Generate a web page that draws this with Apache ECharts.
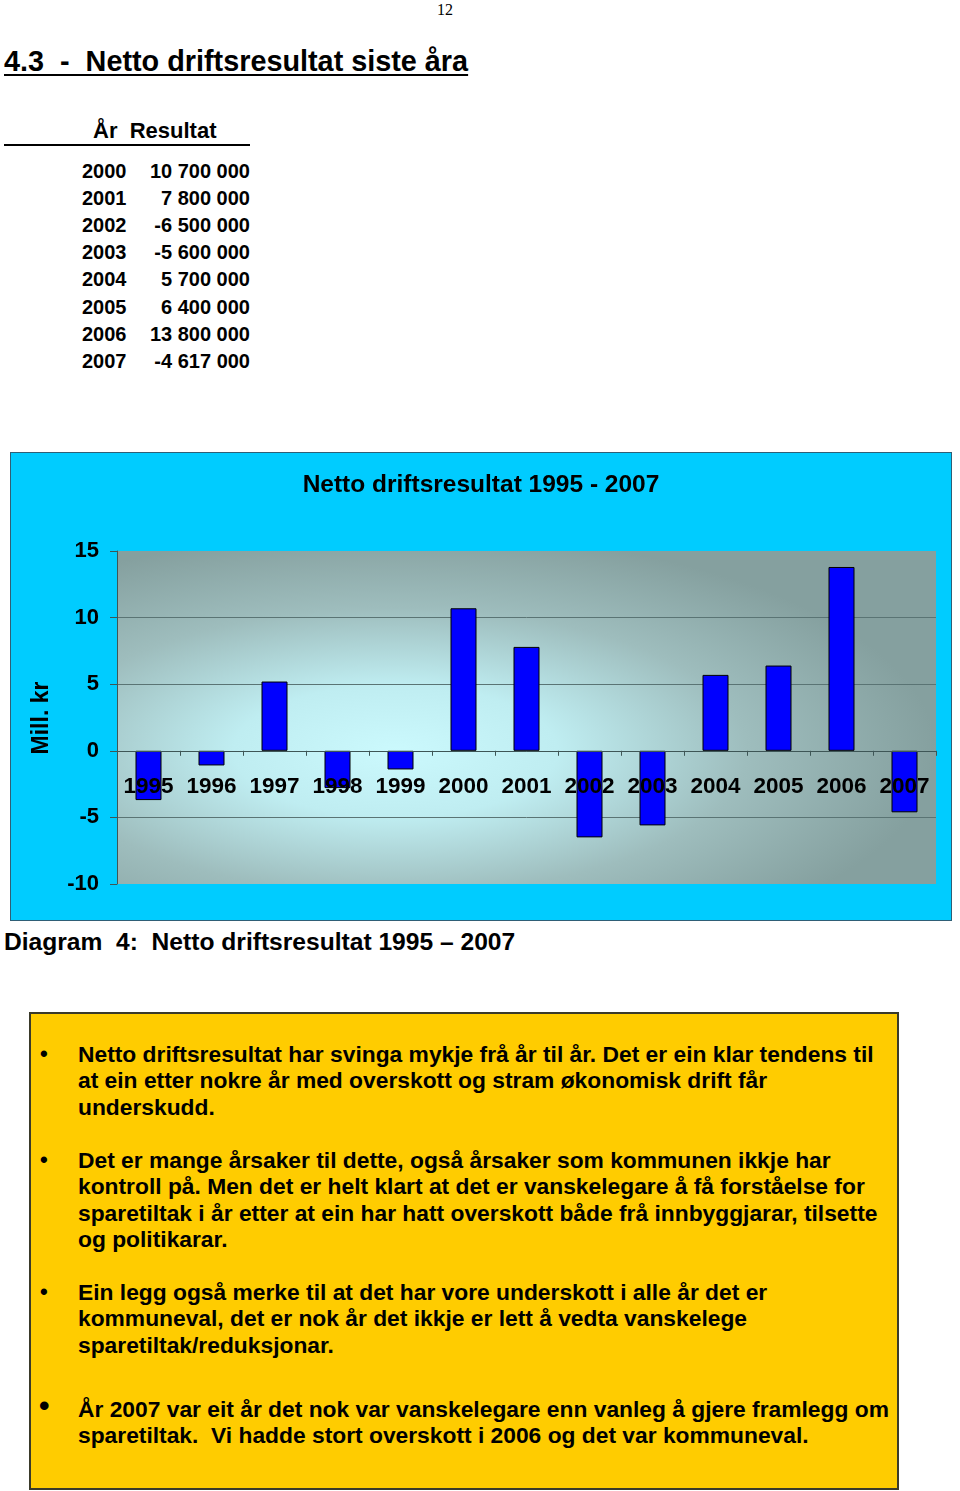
<!DOCTYPE html>
<html>
<head>
<meta charset="utf-8">
<script src="https://cdn.jsdelivr.net/npm/echarts@6/dist/echarts.min.js"></script>
<style>
  html, body { margin: 0; padding: 0; background: #ffffff; }
  body { width: 960px; height: 1491px; position: relative; overflow: hidden;
         font-family: "Liberation Sans", Arial, Helvetica, sans-serif; color: #000; }
  .abs { position: absolute; white-space: pre; font-weight: bold; }
  #pageno { left: 437px; top: 1px; font: 16px "Liberation Serif", "Times New Roman", serif; font-weight: normal; }
  #heading { left: 4px; top: 44px; font-size: 28.8px; line-height: 34px; text-decoration: underline; text-decoration-thickness: 2px; text-underline-offset: 3px; }
  #thead { left: 93px; top: 118px; font-size: 22px; line-height: 26px; }
  #tline { position: absolute; left: 4px; top: 144px; width: 246px; height: 2px; background: #000; }
  .trow { position: absolute; left: 82px; width: 168px; font-size: 20px; line-height: 24px; font-weight: bold; }
  .trow .y { position: absolute; left: 0; }
  .trow .v { position: absolute; right: 0; white-space: pre; }
  #chart { position: absolute; left: 10px; top: 452px; width: 940px; height: 467px; border: 1px solid #2f5f76; }
  #caption { left: 4px; top: 928px; font-size: 24.6px; line-height: 28px; }
  #box { position: absolute; left: 29px; top: 1012px; width: 866px; height: 474px; background: #ffcc00; border: 2px solid #3a3a2a; }
  .para { position: absolute; left: 78px; font-size: 22.8px; line-height: 26.3px; font-weight: bold; white-space: pre; }
  .bul { position: absolute; left: 40px; font-size: 22px; line-height: 26.3px; font-weight: bold; }
</style>
</head>
<body>
<div id="pageno" class="abs">12</div>
<div id="heading" class="abs">4.3  -  Netto driftsresultat siste åra</div>
<div id="thead" class="abs">År  Resultat</div>
<div id="tline"></div>
<div id="table"></div>
<div id="chart"></div>
<div id="caption" class="abs">Diagram  4:  Netto driftsresultat 1995 – 2007</div>
<div id="box"></div>
<div class="bul" style="top:1041px;">•</div>
<div class="para" style="top:1041px;">Netto driftsresultat har svinga mykje frå år til år. Det er ein klar tendens til
at ein etter nokre år med overskott og stram økonomisk drift får
underskudd.</div>
<div class="bul" style="top:1147px;">•</div>
<div class="para" style="top:1147px;">Det er mange årsaker til dette, også årsaker som kommunen ikkje har
kontroll på. Men det er helt klart at det er vanskelegare å få forståelse for
sparetiltak i år etter at ein har hatt overskott både frå innbyggjarar, tilsette
og politikarar.</div>
<div class="bul" style="top:1279px;">•</div>
<div class="para" style="top:1279px;">Ein legg også merke til at det har vore underskott i alle år det er
kommuneval, det er nok år det ikkje er lett å vedta vanskelege
sparetiltak/reduksjonar.</div>
<div class="bul" style="top:1393px; font-size:30px; left:39px;">•</div>
<div class="para" style="top:1396px;">År 2007 var eit år det nok var vanskelegare enn vanleg å gjere framlegg om
sparetiltak.  Vi hadde stort overskott i 2006 og det var kommuneval.</div>

<script>
// ---- Data ----
const tableYears = ['2000', '2001', '2002', '2003', '2004', '2005', '2006', '2007'];
const tableResults = ['10 700 000', '7 800 000', '-6 500 000', '-5 600 000', '5 700 000', '6 400 000', '13 800 000', '-4 617 000'];

const years = ['1995', '1996', '1997', '1998', '1999', '2000', '2001', '2002', '2003', '2004', '2005', '2006', '2007'];
const resultMill = [-3.7, -1.1, 5.2, -2.8, -1.4, 10.7, 7.8, -6.5, -5.6, 5.7, 6.4, 13.8, -4.617];

const yMin = -10, yMax = 15, yStep = 5;
const chartTitle = 'Netto driftsresultat 1995 - 2007';
const yAxisTitle = 'Mill. kr';

// ---- Table ----
const tableEl = document.getElementById('table');
tableYears.forEach(function (y, i) {
  const row = document.createElement('div');
  row.className = 'trow';
  row.style.top = (159 + i * 27.1) + 'px';
  const ys = document.createElement('span'); ys.className = 'y'; ys.textContent = y;
  const vs = document.createElement('span'); vs.className = 'v'; vs.textContent = tableResults[i];
  row.appendChild(ys); row.appendChild(vs);
  tableEl.appendChild(row);
});

// ---- Chart ----
const FONT = '"Liberation Sans", Arial, sans-serif';
const G = { left: 106, top: 98, width: 819, height: 333 };
// x-axis sits on the zero line: distance from plot bottom to zero
const zeroOffset = G.height * (0 - yMin) / (yMax - yMin);
const chart = echarts.init(document.getElementById('chart'), null, { renderer: 'canvas' });
const sx = G.width / G.height;
chart.setOption({
  backgroundColor: '#00ccff',
  animation: false,
  title: {
    text: chartTitle, left: 'center', top: 20, padding: 0,
    textStyle: { fontFamily: FONT, fontSize: 24.5, fontWeight: 'bold', color: '#000' }
  },
  grid: { left: G.left, top: G.top, width: G.width, height: G.height, containLabel: false, outerBoundsMode: 'none' },
  graphic: [
    {
      type: 'rect', z: -10, silent: true,
      x: G.left, y: G.top, scaleX: sx, scaleY: 1,
      shape: { x: 0, y: 0, width: G.height, height: G.height },
      style: {
        fill: new echarts.graphic.RadialGradient(0.34, 0.6, 0.66, [
          { offset: 0, color: '#cbf9fd' },
          { offset: 0.3, color: '#bfedf1' },
          { offset: 0.65, color: '#9ebdbd' },
          { offset: 1, color: '#85a09f' }
        ])
      }
    },
    {
      type: 'text', silent: true,
      x: 31, y: 265, rotation: Math.PI / 2,
      style: {
        text: yAxisTitle, align: 'center', verticalAlign: 'middle',
        font: 'bold 23px ' + FONT, fill: '#000'
      }
    }
  ],
  xAxis: {
    type: 'category', data: years, z: 10, position: 'bottom', offset: -zeroOffset,
    axisLine: { show: true, onZero: false, lineStyle: { color: '#3e5656', width: 1 } },
    axisTick: { show: true, length: 5, inside: false, lineStyle: { color: '#3e5656' } },
    axisLabel: { margin: 24, interval: 0, fontFamily: FONT, fontSize: 22.5, fontWeight: 'bold', color: '#000' },
    splitLine: { show: false }
  },
  yAxis: {
    type: 'value', min: yMin, max: yMax, interval: yStep,
    axisLine: { show: true, lineStyle: { color: '#3e5656', width: 1 } },
    axisTick: { show: true, length: 7, lineStyle: { color: '#3e5656' } },
    axisLabel: { margin: 18, fontFamily: FONT, fontSize: 22, fontWeight: 'bold', color: '#000' },
    splitLine: { show: true, showMinLine: false, showMaxLine: false, lineStyle: { color: '#5a7474', width: 1 } }
  },
  series: [{
    type: 'bar', data: resultMill, barWidth: 26,
    itemStyle: { color: '#0000ff', borderColor: '#000000', borderWidth: 1 }
  }]
});
</script>
</body>
</html>
